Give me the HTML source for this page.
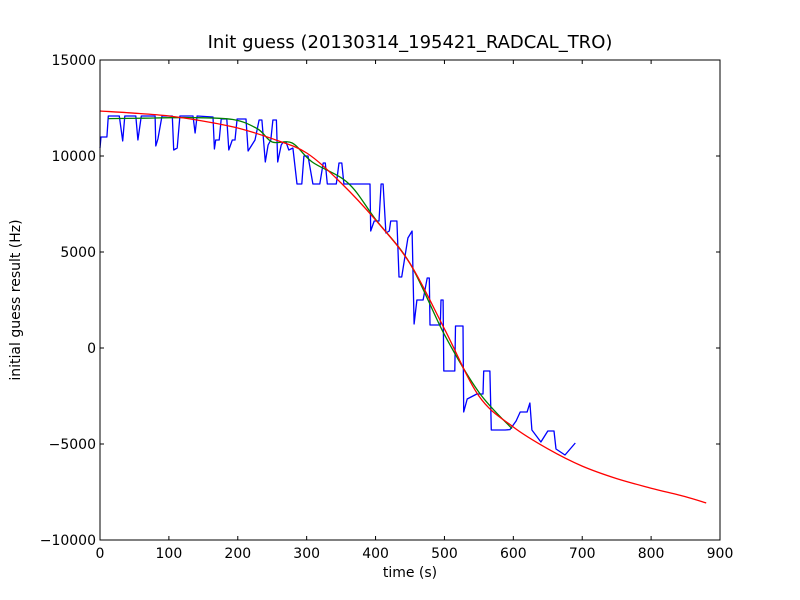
<!DOCTYPE html>
<html><head><meta charset="utf-8"><style>
body{margin:0;background:#fff;}
svg{display:block;font-family:"DejaVu Sans","Liberation Sans",sans-serif;}
</style></head><body>
<svg id="chart" width="800" height="600">
<rect width="800" height="600" fill="#fff"/>
<text x="410" y="48" font-size="18" text-anchor="middle">Init guess (20130314_195421_RADCAL_TRO)</text>
<text x="410" y="577" font-size="14" text-anchor="middle">time (s)</text>
<text transform="translate(20,300) rotate(-90)" font-size="14" text-anchor="middle">initial guess result (Hz)</text>
<g id="ticks"></g>
<g id="series"></g>
<rect x="100" y="60" width="620" height="480" fill="none" stroke="#000" stroke-width="1"/>
</svg>
<script>
const xTicks=[0,100,200,300,400,500,600,700,800,900];
const yTicks=[-10000,-5000,0,5000,10000,15000];
const yTickLabels=["\u221210000","\u22125000","0","5000","10000","15000"];
const blueT=[0,1.5,10,12,28,33,36,52,55,60,80,81,84,90,105,107,112,116,135,138,141,164,166,168,173,176,184,187,192,196,199,212,215,225,231,235,240,244,248,251,256,258,263,266,270,274,280,286,293,296,302,309,319,324,327,330,343,347,351,354,392,393,398,405,408,411,415,420,422,431,434,438,447,453,456,460,469,475,478,479,494,495,498,499,515,516,527,528,533,547,556,557,566,568,588,595,604,610,620,624,627,640,650,659,662,675,690];
const blueV=[10417,10990,10990,12083,12083,10781,12083,12083,10833,12083,12083,10521,10885,12083,12083,10313,10417,12083,12083,11198,12083,12030,10365,10833,10833,11927,11927,10313,10833,10833,11927,11927,10260,10833,11875,11875,9688,10573,10833,11875,11875,9688,10573,10729,10729,10313,10417,8542,8542,10000,10000,8542,8542,9635,9635,8542,8542,9635,9635,8542,8542,6094,6615,6615,8542,8542,5990,6094,6615,6615,3698,3698,5729,6094,1250,2500,2500,3646,3646,1198,1198,2500,2500,-1198,-1198,1146,1146,-3333,-2656,-2396,-2396,-1198,-1198,-4271,-4271,-4250,-3802,-3333,-3333,-2865,-4271,-4896,-4323,-4323,-5260,-5573,-4948];
const greenT=[12,60,130,193,229,250,279,308,360,400,450,500,550,598];
const greenV=[11950,11970,12000,11900,11406,10729,10677,9688,8594,6700,4400,700,-2300,-4200];
const redT=[0,50,100,150,200,250,300,350,400,450,500,550,600,650,700,750,800,850,880];
const redV=[12344,12230,12083,11820,11458,10900,10156,8594,6667,4400,1000,-2500,-4115,-5250,-6150,-6800,-7300,-7750,-8073];
const X0=100,X1=720,Y0=540,Y1=60;
const sx=t=>X0+(t-0)/(900-0)*(X1-X0);
const sy=v=>Y0-(v+10000)/25000*(Y0-Y1);
const NS="http://www.w3.org/2000/svg";
const tg=document.getElementById('ticks');
function mk(tag,attrs,parent){const e=document.createElementNS(NS,tag);for(const k in attrs)e.setAttribute(k,attrs[k]);parent.appendChild(e);return e;}
xTicks.forEach(t=>{
  const x=sx(t);
  const l1=mk('line',{x1:x,x2:x,y1:Y0,y2:Y0-4,stroke:'#000'},tg);
  
  
  const l2=mk('line',{x1:x,x2:x,y1:Y1,y2:Y1+4,stroke:'#000'},tg);
  
  
  const tx=mk('text',{x:x,y:Y0+18,'font-size':14,'text-anchor':'middle'},tg);
  tx.textContent=t;
  
  
});
yTicks.forEach((v,i)=>{
  const y=sy(v);
  const l1=mk('line',{x1:X0,x2:X0+4,y1:y,y2:y,stroke:'#000'},tg);
  
  
  const l2=mk('line',{x1:X1,x2:X1-4,y1:y,y2:y,stroke:'#000'},tg);
  
  
  const tx=mk('text',{x:X0-4,y:y+5,'font-size':14,'text-anchor':'end'},tg);
  tx.textContent=yTickLabels[i];
  
  
});
const sg=document.getElementById('series');
function line(T,V,color,name){
  const pts=T.map((t,i)=>sx(t).toFixed(1)+','+sy(V[i]).toFixed(1)).join(' ');
  const p=mk('polyline',{points:pts,fill:'none',stroke:color,'stroke-width':1.3,'stroke-linejoin':'round'},sg);
  
  
}
function smooth(T,V,color,name){
  const P=T.map((t,i)=>[sx(t),sy(V[i])]);
  let d='M'+P[0][0].toFixed(1)+','+P[0][1].toFixed(1);
  for(let i=0;i<P.length-1;i++){
    const p0=P[Math.max(i-1,0)],p1=P[i],p2=P[i+1],p3=P[Math.min(i+2,P.length-1)];
    const c1=[p1[0]+(p2[0]-p0[0])/6,p1[1]+(p2[1]-p0[1])/6];
    const c2=[p2[0]-(p3[0]-p1[0])/6,p2[1]-(p3[1]-p1[1])/6];
    d+=' C'+c1.map(n=>n.toFixed(1)).join(',')+' '+c2.map(n=>n.toFixed(1)).join(',')+' '+p2.map(n=>n.toFixed(1)).join(',');
  }
  const p=mk('path',{d:d,fill:'none',stroke:color,'stroke-width':1.3},sg);
  
  
}
line(blueT,blueV,'#0000ff','raw-guess-line');
smooth(greenT,greenV,'#008000','smoothed-line');
smooth(redT,redV,'#ff0000','fit-line');
</script>
</body></html>
